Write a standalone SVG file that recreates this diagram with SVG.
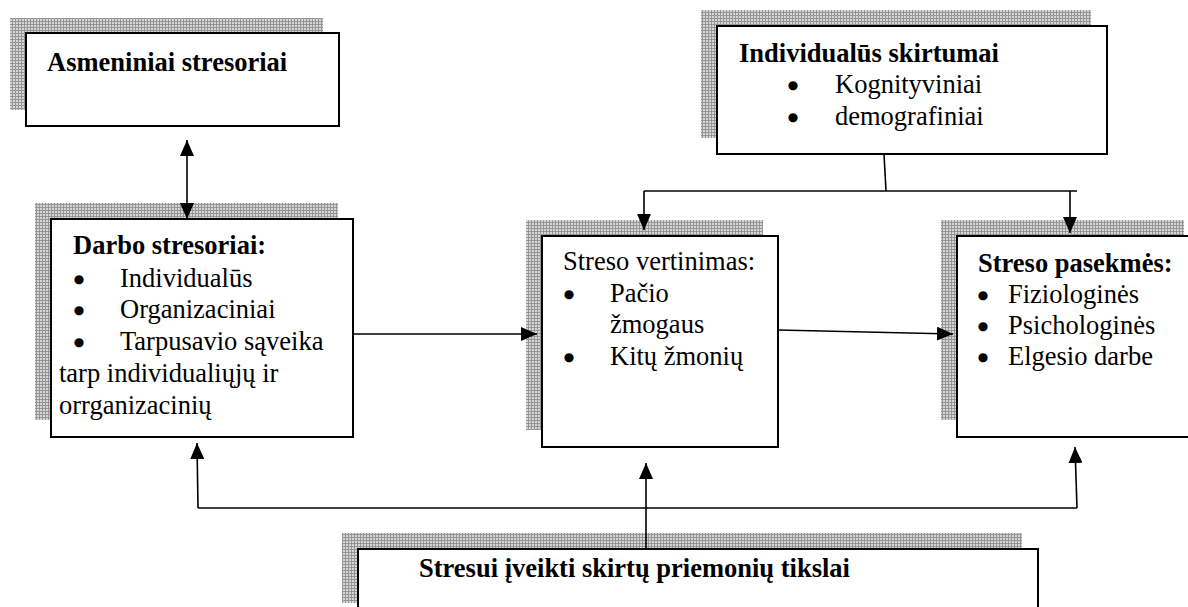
<svg xmlns="http://www.w3.org/2000/svg" width="1188" height="607" viewBox="0 0 1188 607">
  <defs>
    <!-- fine grid fill used for the offset box shadows -->
    <pattern id="grid" width="3" height="3" patternUnits="userSpaceOnUse">
      <rect width="3" height="3" fill="#d6d6d6"/>
      <path d="M0 0.5H3M0.5 0V3" stroke="#959595" stroke-width="1"/>
    </pattern>
    <marker id="arrow" viewBox="0 0 16 14" refX="16" refY="7" markerWidth="16" markerHeight="14" markerUnits="userSpaceOnUse" orient="auto-start-reverse">
      <path d="M0 0L16 7L0 14Z" fill="#000"/>
    </marker>
    <style>
      .shadow { fill: url(#grid); }
      .box { fill: #fff; stroke: #000; stroke-width: 2; }
      .t { font-family: "Liberation Serif", "Times New Roman", serif; font-size: 26.5px; fill: #000; }
      .b { font-weight: bold; }
      .dot { font-family: "DejaVu Sans", sans-serif; font-size: 12px; fill: #000; text-anchor: middle; }
      .link { fill: none; stroke: #000; stroke-width: 1.6; }
      .arr { marker-end: url(#arrow); }
    </style>
  </defs>
  <rect width="1188" height="607" fill="#fff"/>

  <g id="asmeniniai-stresoriai">
    <rect class="shadow" x="10" y="18" width="313" height="92"/>
    <rect class="box" x="26" y="33" width="313" height="93"/>
    <text class="t b" x="47" y="71">Asmeniniai stresoriai</text>
  </g>

  <g id="individualus-skirtumai">
    <rect class="shadow" x="701" y="10" width="390" height="128"/>
    <rect class="box" x="717" y="26" width="390" height="128"/>
    <text class="t b" x="739" y="62">Individualūs skirtumai</text>
    <text class="dot" x="793" y="89">●</text>
    <text class="t" x="835" y="93">Kognityviniai</text>
    <text class="dot" x="793" y="121">●</text>
    <text class="t" x="835" y="125">demografiniai</text>
  </g>

  <g id="darbo-stresoriai">
    <rect class="shadow" x="35" y="203" width="303" height="217"/>
    <rect class="box" x="51" y="219" width="302" height="218"/>
    <text class="t b" x="73" y="254">Darbo stresoriai:</text>
    <text class="dot" x="79" y="283">●</text>
    <text class="t" x="120" y="287">Individualūs</text>
    <text class="dot" x="79" y="314">●</text>
    <text class="t" x="120" y="318">Organizaciniai</text>
    <text class="dot" x="79" y="346">●</text>
    <text class="t" x="120" y="350">Tarpusavio sąveika</text>
    <text class="t" x="59" y="382">tarp individualiųjų ir</text>
    <text class="t" x="59" y="414">orrganizacinių</text>
  </g>

  <g id="streso-vertinimas">
    <rect class="shadow" x="526" y="220" width="237" height="210"/>
    <rect class="box" x="542" y="236" width="236" height="211"/>
    <text class="t" x="563" y="270">Streso vertinimas:</text>
    <text class="dot" x="569" y="298">●</text>
    <text class="t" x="610" y="302">Pačio</text>
    <text class="t" x="610" y="333">žmogaus</text>
    <text class="dot" x="569" y="361">●</text>
    <text class="t" x="610" y="365">Kitų žmonių</text>
  </g>

  <g id="streso-pasekmes">
    <rect class="shadow" x="941" y="220" width="243" height="200"/>
    <rect class="box" x="957" y="236" width="245" height="201"/>
    <text class="t b" x="978" y="272">Streso pasekmės:</text>
    <text class="dot" x="983" y="299">●</text>
    <text class="t" x="1008" y="303">Fiziologinės</text>
    <text class="dot" x="983" y="330">●</text>
    <text class="t" x="1008" y="334">Psichologinės</text>
    <text class="dot" x="983" y="361">●</text>
    <text class="t" x="1008" y="365">Elgesio darbe</text>
  </g>

  <g id="priemoniu-tikslai">
    <rect class="shadow" x="342" y="533" width="680" height="70"/>
    <rect class="box" x="358" y="549" width="680" height="70"/>
    <text class="t b" x="419" y="577">Stresui įveikti skirtų priemonių tikslai</text>
  </g>

  <g id="connectors">
    <!-- personal and work stressors, both directions -->
    <line class="link arr" x1="187" y1="180" x2="187" y2="140"/>
    <line class="link arr" x1="187" y1="180" x2="187" y2="219"/>
    <!-- main chain -->
    <line class="link arr" x1="353" y1="334" x2="537" y2="334"/>
    <line class="link arr" x1="778" y1="330" x2="953" y2="334"/>
    <!-- individual differences feed both appraisal and outcomes -->
    <line class="link" x1="884" y1="154" x2="886" y2="191"/>
    <line class="link" x1="644" y1="191" x2="1077" y2="191"/>
    <line class="link arr" x1="644" y1="191" x2="644" y2="230"/>
    <line class="link arr" x1="1070" y1="191" x2="1070" y2="233"/>
    <!-- coping aims act on all three stages -->
    <line class="link" x1="198" y1="508" x2="1077" y2="508"/>
    <line class="link arr" x1="198" y1="508" x2="197" y2="443"/>
    <line class="link arr" x1="646" y1="549" x2="646" y2="463"/>
    <line class="link arr" x1="1077" y1="508" x2="1075" y2="447"/>
  </g>
</svg>
